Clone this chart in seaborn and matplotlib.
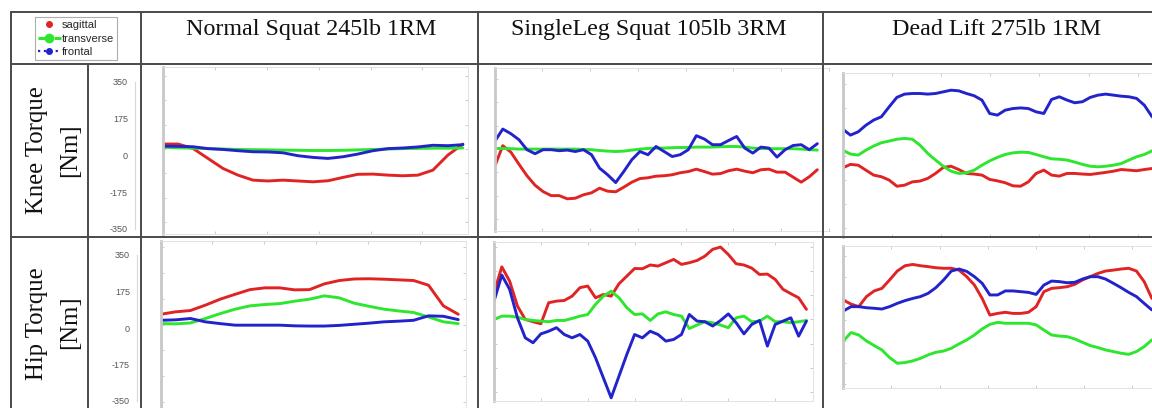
import pandas as pd
import seaborn as sns
import matplotlib.pyplot as plt
from matplotlib.lines import Line2D

sns.set_theme(style='white')
plt.rcParams['font.family'] = ['Liberation Sans', 'DejaVu Sans']

W, H = 1152, 408

# sample positions (% of the lift)
x_coarse = list(range(0, 101, 5))
x_fine = [i * 2.5 for i in range(41)]

# Normal squat 245lb - knee / hip torque [Nm]
squat_knee_sag = [24, 24, 3, -45, -93, -125, -149, -153, -149, -153, -157, -152, -136, -121, -120, -125, -128, -125, -101, -29, 24]
squat_knee_tra = [8, 6, 4, 2, 0, -2, -3, -4, -5, -6, -7, -7, -6, -4, -2, 0, 2, 3, 4, 4, 5]
squat_knee_fro = [14, 13, 11, 2, -2, -8, -13, -14, -18, -32, -40, -45, -37, -24, -8, 2, 5, 10, 18, 16, 21]
squat_hip_sag = [46, 57, 63, 87, 114, 136, 157, 165, 165, 156, 157, 183, 198, 205, 206, 204, 201, 198, 177, 84, 46]
squat_hip_tra = [4, 3, 7, 27, 49, 69, 84, 90, 94, 105, 114, 129, 120, 96, 82, 69, 61, 54, 34, 12, 4]
squat_hip_fro = [19, 21, 27, 12, 4, -3, -3, -3, -3, -6, -7, -7, -4, 1, 6, 12, 15, 19, 39, 37, 22]

# SingleLeg squat 105lb
single_knee_sag = [-87, 17, -15, -75, -133, -180, -212, -232, -232, -248, -245, -228, -218, -195, -210, -213, -190, -165, -147, -143,
                   -135, -133, -128, -118, -112, -100, -112, -125, -122, -108, -100, -110, -118, -103, -100, -115, -115, -140, -165, -138, -103]
single_knee_tra = [3, 3, 2, 0, 0, 0, 0, 0, 0, 0, 0, -2, -3, -7, -10, -12, -10, -5, 0, 3,
                   5, 5, 7, 8, 8, 10, 10, 10, 12, 13, 13, 10, 5, 3, 2, 2, 2, 2, 0, -3, -5]
single_knee_fro = [38, 100, 77, 47, -3, -23, -3, -3, -8, -5, -12, -3, -28, -95, -128, -167, -112, -53, -12, -28,
                   13, -12, -37, -28, -3, 67, 50, 22, 22, 43, 63, 5, -20, 10, 5, -40, -3, 18, 22, -3, 27]
single_hip_sag = [129, 255, 186, 65, 0, -11, -21, 81, 89, 92, 113, 154, 162, 105, 121, 113, 173, 210, 247, 246,
                  264, 259, 275, 291, 267, 275, 286, 307, 340, 351, 315, 270, 264, 249, 218, 220, 194, 146, 125, 105, 49]
single_hip_tra = [0, 16, 16, 11, 0, -5, -8, -11, -5, -5, 5, 16, 24, 73, 113, 137, 105, 57, 24, 27,
                  -5, 27, 37, 24, 16, -44, -27, -11, -16, -27, -40, 8, 16, -11, -8, 16, -11, -11, -16, -11, -5]
single_hip_fro = [89, 215, 146, 8, -89, -113, -70, -57, -40, -73, -89, -73, -105, -186, -283, -380, -275, -170, -73, -89,
                  -57, -73, -105, -97, -73, 24, -8, -11, -32, -5, 27, -16, -70, -24, -5, -129, -24, -8, 8, -81, -8]

# Dead lift 275lb
dead_knee_sag = [-57, -40, -44, -68, -92, -100, -116, -146, -141, -125, -121, -108, -84, -55, -49, -65, -84, -87, -92, -113,
                 -120, -129, -144, -146, -125, -84, -68, -92, -97, -84, -84, -87, -89, -84, -79, -73, -65, -68, -71, -65, -60]
dead_knee_tra = [29, 10, 5, 29, 49, 65, 73, 82, 86, 82, 53, 13, -19, -49, -73, -84, -81, -68, -44, -23,
                 -6, 8, 16, 19, 18, 8, -3, -13, -15, -19, -29, -40, -49, -52, -49, -44, -36, -19, -3, 8, 26]
dead_knee_fro = [131, 102, 118, 150, 175, 191, 239, 285, 301, 304, 304, 301, 304, 312, 320, 317, 304, 293, 272, 207,
                 199, 223, 231, 234, 231, 215, 207, 275, 288, 272, 259, 264, 285, 296, 301, 296, 291, 288, 280, 247, 191]
dead_hip_sag = [109, 87, 73, 128, 159, 173, 219, 268, 297, 304, 297, 292, 286, 283, 283, 273, 237, 191, 118, 27,
                36, 42, 36, 36, 42, 73, 155, 173, 177, 182, 195, 219, 237, 255, 268, 273, 279, 283, 268, 210, 118]
dead_hip_tra = [-115, -69, -82, -115, -140, -164, -206, -237, -233, -224, -210, -191, -177, -170, -155, -131, -109, -82, -49, -24,
                -13, -18, -18, -18, -18, -27, -55, -82, -88, -91, -104, -122, -140, -151, -164, -173, -182, -188, -173, -146, -109]
dead_hip_fro = [49, 73, 73, 67, 64, 60, 73, 91, 106, 118, 128, 146, 177, 219, 268, 279, 266, 237, 201, 137,
                137, 159, 159, 155, 151, 140, 191, 213, 210, 204, 206, 224, 237, 237, 224, 201, 177, 151, 128, 91, 55]

titles = ['Normal Squat 245lb 1RM', 'SingleLeg Squat 105lb 3RM', 'Dead Lift 275lb 1RM']
row_labels = ['Knee Torque', 'Hip Torque']
outer_ticks = [-350, -175, 0, 175, 350]
planes = ['sagittal', 'transverse', 'frontal']
colors = {'sagittal': '#e02424', 'transverse': '#2ee62e', 'frontal': '#2323cc'}

# panel layout in pixels: left, top, right, bottom, xlim max, ylim, xtick step
panels = [
    dict(x=x_coarse, s=squat_knee_sag, t=squat_knee_tra, f=squat_knee_fro, box=(163, 67, 468, 234), xmax=101.7, ylim=(-407, 393), step=17.3, right=True),
    dict(x=x_fine, s=single_knee_sag, t=single_knee_tra, f=single_knee_fro, box=(494.7, 68.3, 829.6, 230.7), xmax=103.8, ylim=(-407, 403), step=14.8, right=False),
    dict(x=x_fine, s=dead_knee_sag, t=dead_knee_tra, f=dead_knee_fro, box=(842.7, 73.3, 1188.3, 236.7), xmax=111.7, ylim=(-391, 402), step=15.9, right=False),
    dict(x=x_coarse, s=squat_hip_sag, t=squat_hip_tra, f=squat_hip_fro, box=(160.7, 241, 466, 412), xmax=102.6, ylim=(-394, 376), step=17.4, right=True),
    dict(x=x_fine, s=single_hip_sag, t=single_hip_tra, f=single_hip_fro, box=(494, 241.7, 813, 400.7), xmax=102.1, ylim=(-394, 377), step=15.0, right=True),
    dict(x=x_fine, s=dead_hip_sag, t=dead_hip_tra, f=dead_hip_fro, box=(843.3, 246, 1181.5, 388.3), xmax=109.6, ylim=(-374, 405), step=15.6, right=False),
]

fig = plt.figure(figsize=(W / 100, H / 100), dpi=100)
fig.patch.set_facecolor('white')


def px_axes(l, t, r, b):
    return fig.add_axes([l / W, 1 - b / H, (r - l) / W, (b - t) / H])


for p in panels:
    ax = px_axes(*p['box'])
    ax.set_facecolor('none')
    df = pd.DataFrame({'x': p['x'], 'sagittal': p['s'], 'transverse': p['t'], 'frontal': p['f']})
    long = df.melt(id_vars='x', var_name='plane', value_name='torque')
    sns.lineplot(data=long, x='x', y='torque', hue='plane', hue_order=['sagittal', 'transverse', 'frontal'],
                 palette=colors, linewidth=2.1, sort=False, estimator=None, legend=False, ax=ax)
    ax.set_xlim(0, p['xmax'])
    ax.set_ylim(*p['ylim'])
    ax.set_xlabel('')
    ax.set_ylabel('')
    ax.set_yticks([-350 + i * 700 / 6 for i in range(7)])
    ax.set_xticks([i * p['step'] for i in range(int(p['xmax'] / p['step']) + 1)])
    ax.tick_params(length=2, width=0.6, color='#c4c4c4', labelleft=False, labelbottom=False,
                   direction='in', left=True, bottom=True, top=True, right=p['right'])
    for side, sp in ax.spines.items():
        sp.set_color('#e2e2e2')
        sp.set_linewidth(0.7)
    ax.spines['left'].set_color('#c8c8c8')
    ax.spines['left'].set_linewidth(2)
    ax.spines['right'].set_visible(p['right'])

# outer torque scale column
for (top, bottom, xl) in [(81.7, 229, 135), (255, 401, 137)]:
    sax = px_axes(xl, top, xl + 1, bottom)
    sax.set_facecolor('none')
    sax.set_ylim(-350, 350)
    sax.set_yticks(outer_ticks)
    sax.set_yticklabels([str(v) for v in outer_ticks])
    sax.set_xticks([])
    sax.tick_params(axis='y', length=0, pad=5, labelsize=6.5, labelcolor='#555555')
    for side, sp in sax.spines.items():
        sp.set_visible(side == 'left')
    sax.spines['left'].set_color('#d6d6d6')
    sax.spines['left'].set_linewidth(0.8)

# table grid
grid_kw = dict(color='#4a4a4a', linewidth=1.4, transform=fig.transFigure)
for y in [12, 64, 237]:
    fig.add_artist(Line2D([11 / W, 1], [1 - y / H, 1 - y / H], **grid_kw))
for x, y0 in [(11, 12), (87.5, 64), (140.5, 12), (478, 12), (822.5, 12)]:
    fig.add_artist(Line2D([x / W, x / W], [1 - y0 / H, 0], **grid_kw))

# column titles
serif = ['Liberation Serif', 'DejaVu Serif']
for title, cx in zip(titles, [311, 649, 997]):
    fig.text(cx / W, 1 - 35 / H, title, ha='center', va='baseline', fontsize=17.3, family=serif, color='#111111')

# row labels
for label, cy, cy2 in zip(row_labels, [150, 324], [150, 322]):
    fig.text(37 / W, 1 - cy / H, label, rotation=90, ha='center', va='center', fontsize=17.8, family=serif, color='#111111')
    fig.text(70 / W, 1 - cy2 / H, '[Nm]', rotation=90, ha='center', va='center', fontsize=17.8, family=serif, color='#111111')

# legend
handles = [
    Line2D([], [], color=colors['sagittal'], linestyle='none', marker='o', markersize=4),
    Line2D([], [], color=colors['transverse'], linestyle='--', linewidth=2.2, marker='o', markersize=6),
    Line2D([], [], color=colors['frontal'], linestyle=':', linewidth=1.6, marker='o', markersize=4),
]
leg = fig.legend(handles, planes, loc='upper left', bbox_to_anchor=(35 / W, 1 - 17 / H), fontsize=8,
                 frameon=True, fancybox=False, borderaxespad=0, borderpad=0.3, handlelength=2.0,
                 handletextpad=0.1, labelspacing=0.3)
leg.get_frame().set_edgecolor('#999999')
leg.get_frame().set_linewidth(0.8)

fig.savefig('out.png', dpi=100)
